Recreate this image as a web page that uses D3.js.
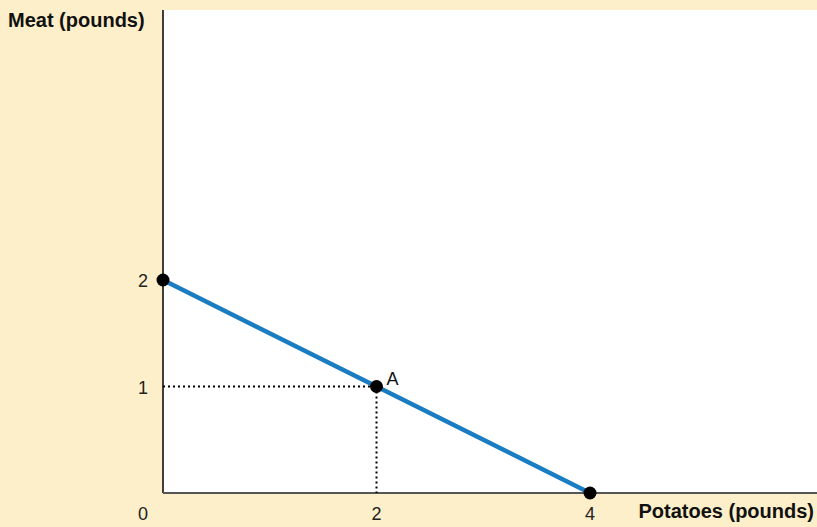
<!DOCTYPE html>
<html><head><meta charset="utf-8">
<script src="https://cdn.jsdelivr.net/npm/d3@7"></script>
<style>body{margin:0;background:#fcefc9;}svg{display:block;}</style>
</head><body>
<script>
const xTicks = [0, 2, 4];
const yTicks = [1, 2];
const linePoints = [{x:0, y:2}, {x:2, y:1}, {x:4, y:0}];
const pointLabels = [{x:2, y:1, label:"A"}];
const xTitle = "Potatoes (pounds)";
const yTitle = "Meat (pounds)";

(function(){
const W = 817, H = 527;
const svg = d3.select("body").append("svg").attr("width", W).attr("height", H);
svg.append("rect").attr("width", W).attr("height", H).attr("fill", "#fcefc9");

const pl = 163, pr = 817, pt = 10, pb = 493;
const x = d3.scaleLinear().domain([0, 4]).range([pl, 590]);
const y = d3.scaleLinear().domain([0, 2]).range([pb, 280]);

svg.append("rect").attr("x", pl).attr("y", pt).attr("width", pr - pl).attr("height", pb - pt).attr("fill", "#fff");

svg.append("line").attr("x1", pl).attr("x2", pl).attr("y1", pt).attr("y2", pb).attr("stroke", "#000").attr("stroke-width", 1.5);
svg.append("line").attr("x1", pl).attr("x2", pr).attr("y1", pb).attr("y2", pb).attr("stroke", "#555").attr("stroke-width", 2);

svg.selectAll(".xt").data(xTicks).enter().append("text")
  .attr("x", d => d === 0 ? x(d) - 20 : x(d)).attr("y", 520).attr("text-anchor", "middle")
  .attr("font-family", "Liberation Sans, Arial, sans-serif").attr("font-size", 18).attr("fill", "#222").text(d => d);
svg.selectAll(".yt").data(yTicks).enter().append("text")
  .attr("x", 148).attr("y", d => y(d) + 7).attr("text-anchor", "end")
  .attr("font-family", "Liberation Sans, Arial, sans-serif").attr("font-size", 18).attr("fill", "#222").text(d => d);

svg.append("text").attr("x", 8).attr("y", 27).attr("font-family", "Liberation Sans, Arial, sans-serif")
  .attr("font-weight", "bold").attr("font-size", 20).attr("fill", "#111").text(yTitle);
svg.append("text").attr("x", 814).attr("y", 518).attr("text-anchor", "end").attr("font-family", "Liberation Sans, Arial, sans-serif")
  .attr("font-weight", "bold").attr("font-size", 20).attr("fill", "#111").text(xTitle);

pointLabels.forEach(p => {
  svg.append("line").attr("x1", x(0)).attr("x2", x(p.x)).attr("y1", y(p.y)).attr("y2", y(p.y))
    .attr("stroke", "#000").attr("stroke-width", 2).attr("stroke-dasharray", "2,3");
  svg.append("line").attr("x1", x(p.x)).attr("x2", x(p.x)).attr("y1", y(p.y)).attr("y2", y(0))
    .attr("stroke", "#000").attr("stroke-width", 2).attr("stroke-dasharray", "2,3");
});

svg.append("path").datum(linePoints)
  .attr("d", d3.line().x(d => x(d.x)).y(d => y(d.y)))
  .attr("fill", "none").attr("stroke", "#1a7cc1").attr("stroke-width", 4.5);

svg.selectAll(".dot").data(linePoints).enter().append("circle")
  .attr("cx", d => x(d.x)).attr("cy", d => y(d.y)).attr("r", 6.5).attr("fill", "#000");

svg.selectAll(".pl").data(pointLabels).enter().append("text")
  .attr("x", d => x(d.x) + 10).attr("y", d => y(d.y) - 2)
  .attr("font-family", "Liberation Sans, Arial, sans-serif").attr("font-size", 18).attr("fill", "#111").text(d => d.label);
})();
</script>
</body></html>
